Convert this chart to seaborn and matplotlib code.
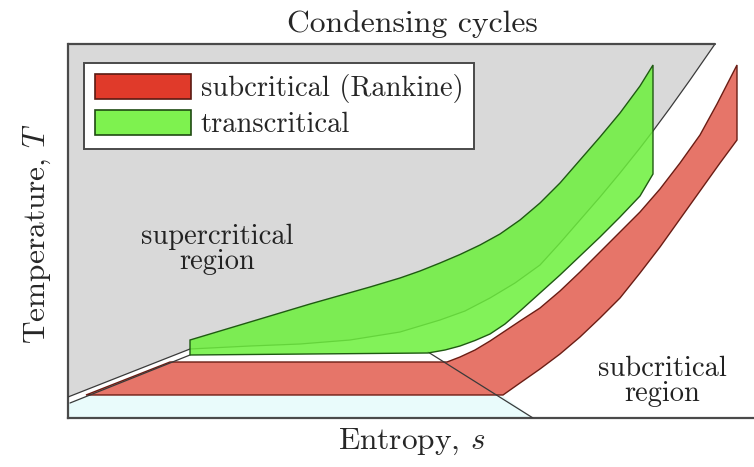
import matplotlib
matplotlib.use("Agg")
import matplotlib.pyplot as plt
from matplotlib.patches import Patch
import pandas as pd
import seaborn as sns

# T-s diagram, arbitrary units (s to the right, T upwards)
# Boundary between supercritical (grey) and subcritical (white) regions
boundary_s = [0, 122, 182, 232, 282, 332, 372, 397, 422, 447, 472, 492, 512, 532,
              552, 572, 585, 602, 622, 647]
boundary_T = [21, 69, 72, 74, 78, 86, 98, 107, 120, 135, 153, 175, 198, 221,
              245, 270, 287, 310, 338, 374]

# Saturated liquid line (lower branch of the double line)
liquid_s = [2, 122]
liquid_T = [15, 63]

# Saturated vapour line
vapour_s = [360, 465]
vapour_T = [66, 0]

# Subcritical (Rankine) cycle: pump/heating edge, expansion, condensation
rankine_low_s = [18, 102]
rankine_low_T = [23, 56]
rankine_top_s = [379, 392, 407, 422, 437, 452, 472, 492, 512, 532, 552, 572, 592,
                 612, 632, 649, 669]
rankine_top_T = [56, 61, 68, 77, 87, 97, 110, 127, 146, 166, 186, 206, 229,
                 255, 283, 314, 353]
rankine_exp_s = [669, 652, 632, 612, 592, 572, 552, 532, 512, 492, 472, 452, 435]
rankine_exp_T = [278, 255, 227, 199, 171, 145, 120, 100, 81, 64, 49, 35, 23]

# Transcritical cycle: bottom, lower (condensing-side) edge, upper (heating) edge
trans_bot_s = [122, 360]
trans_bot_T = [63, 65]
trans_low_s = [377, 392, 407, 422, 437, 452, 472, 492, 512, 532, 552, 572, 585]
trans_low_T = [68, 72, 77.5, 84, 94, 107, 125, 143, 162, 181, 201, 222, 244]
trans_up_s = [585, 572, 552, 532, 512, 492, 472, 452, 432, 412, 392, 372, 352,
              332, 302, 272, 242, 212, 182, 152, 122]
trans_up_T = [353, 332, 305, 281, 258, 235, 215, 198, 184, 173, 163.5, 155, 147,
              140, 131, 122.5, 114, 105, 96, 87, 78]

# Condenser-side band below the cycles
band_s = [0, 0, 18, 435, 465]
band_T = [0, 15, 22, 22, 0]

legend_labels = ["subcritical (Rankine)", "transcritical"]

sns.set_theme(style="white")
plt.rcParams["mathtext.fontset"] = "cm"
plt.rcParams["axes.formatter.use_mathtext"] = True
serif = ["cmr10", "DejaVu Serif"]

fig = plt.figure(figsize=(7.54, 4.67), dpi=100)
ax = fig.add_axes([68 / 754, 49 / 467, (790 - 68) / 754, (418 - 44) / 467])
ax.set_xlim(0, 722)
ax.set_ylim(0, 374)
ax.set_facecolor("white")

grey = "#d9d9d9"
frame = "#4a4a4a"

# supercritical region
gs = [0] + boundary_s + [boundary_s[-1], 0]
gT = [boundary_T[0]] + boundary_T + [374, 374]
ax.fill(gs, gT, color=grey, lw=0, zorder=1)
ax.fill(band_s, band_T, color="#e9fbfb", lw=0, zorder=1)

# cycles
rs = rankine_low_s + rankine_top_s + rankine_exp_s
rT = rankine_low_T + rankine_top_T + rankine_exp_T
ax.fill(rs, rT, facecolor="#dc3a2a", alpha=0.7, lw=0, zorder=2)
ax.fill(rs, rT, facecolor="none", edgecolor="#6b1d14", lw=1.0, zorder=3)

ts = trans_bot_s + trans_low_s + trans_up_s
tT = trans_bot_T + trans_low_T + trans_up_T
ax.fill(ts, tT, facecolor="#6cf03c", alpha=0.85, lw=0, zorder=4)
ax.fill(ts, tT, facecolor="none", edgecolor="#1f5a12", lw=1.0, zorder=5)

# region boundaries
lines = pd.concat([
    pd.DataFrame({"s": boundary_s, "T": boundary_T, "curve": "boundary"}),
    pd.DataFrame({"s": liquid_s, "T": liquid_T, "curve": "liquid"}),
    pd.DataFrame({"s": vapour_s, "T": vapour_T, "curve": "vapour"}),
])
sns.lineplot(data=lines, x="s", y="T", units="curve", estimator=None, sort=False,
             color="#3a3a3a", lw=0.9, ax=ax, zorder=3.5, legend=False)
ax.plot([0, boundary_s[-1]], [374, 374], color=frame, lw=1.6, zorder=6, clip_on=False)

for side in ["top", "right"]:
    ax.spines[side].set_visible(False)
for side in ["left", "bottom"]:
    ax.spines[side].set_color(frame)
    ax.spines[side].set_linewidth(1.6)
ax.set_xticks([])
ax.set_yticks([])
ax.set_xlabel("")
ax.set_ylabel("")

ax.text(149, 169, "supercritical\nregion", ha="center", va="center",
        fontsize=20.5, family=serif, linespacing=0.92, color="#222222", zorder=7)
ax.text(594, 37, "subcritical\nregion", ha="center", va="center",
        fontsize=20.5, family=serif, linespacing=0.92, color="#222222", zorder=7)

handles = [Patch(facecolor="#e03a2a", edgecolor="#5a1a12", lw=1.2),
           Patch(facecolor="#7ef24f", edgecolor="#1f4a12", lw=1.2)]
leg = ax.legend(handles, legend_labels, loc="upper left",
                bbox_to_anchor=(84 / 754, 1 - 63 / 467), bbox_transform=fig.transFigure,
                borderaxespad=0, frameon=True, fancybox=False, framealpha=1,
                prop={"family": serif, "size": 20.5}, handlelength=3.37, handleheight=1.0,
                handletextpad=0.35, labelspacing=0.22, borderpad=0.38)
leg.get_frame().set_edgecolor(frame)
leg.get_frame().set_linewidth(1.4)
leg.set_zorder(10)

fig.text(412 / 754, 1 - 32 / 467, "Condensing cycles", ha="center", va="baseline",
         fontsize=22.8, family=serif)
fig.text(412 / 754, 1 - 449 / 467, "Entropy, $s$", ha="center", va="baseline",
         fontsize=22.6, family=serif)
fig.text(37 / 754, 1 - 233 / 467, "Temperature, $T$", ha="center", va="center",
         rotation=90, fontsize=22.6, family=serif)

fig.savefig("out.png", dpi=100)
